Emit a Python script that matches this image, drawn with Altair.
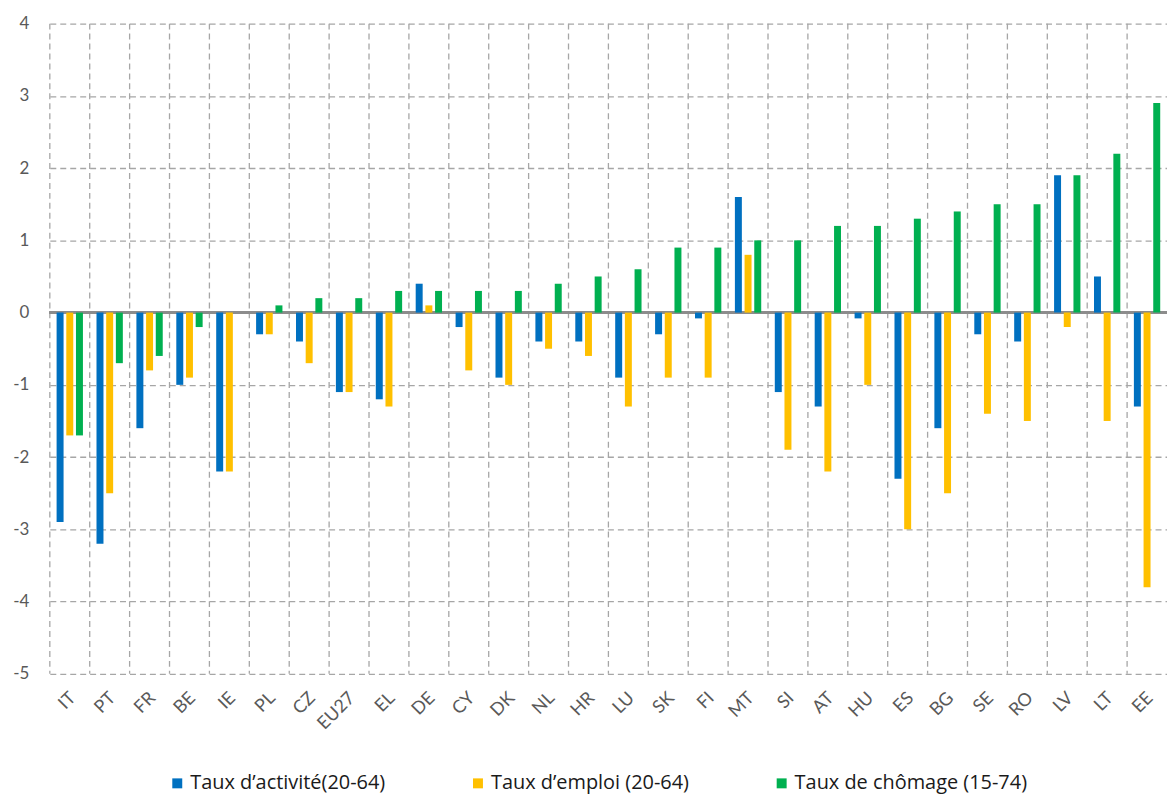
import altair as alt
import pandas as pd

countries = ["IT", "PT", "FR", "BE", "IE", "PL", "CZ", "EU27", "EL", "DE", "CY", "DK", "NL", "HR",
             "LU", "SK", "FI", "MT", "SI", "AT", "HU", "ES", "BG", "SE", "RO", "LV", "LT", "EE"]
activite = [-2.9, -3.2, -1.6, -1.0, -2.2, -0.3, -0.4, -1.1, -1.2, 0.4, -0.2, -0.9, -0.4, -0.4,
            -0.9, -0.3, -0.08, 1.6, -1.1, -1.3, -0.08, -2.3, -1.6, -0.3, -0.4, 1.9, 0.5, -1.3]
emploi = [-1.7, -2.5, -0.8, -0.9, -2.2, -0.3, -0.7, -1.1, -1.3, 0.1, -0.8, -1.0, -0.5, -0.6,
          -1.3, -0.9, -0.9, 0.8, -1.9, -2.2, -1.0, -3.0, -2.5, -1.4, -1.5, -0.2, -1.5, -3.8]
chomage = [-1.7, -0.7, -0.6, -0.2, 0.0, 0.1, 0.2, 0.2, 0.3, 0.3, 0.3, 0.3, 0.4, 0.5,
           0.6, 0.9, 0.9, 1.0, 1.0, 1.2, 1.2, 1.3, 1.4, 1.5, 1.5, 1.9, 2.2, 2.9]
series = ["Taux d’activité(20-64)", "Taux d’emploi (20-64)", "Taux de chômage (15-74)"]
colors = ["#0070C0", "#FFC000", "#00B050"]

rows = []
for i, c in enumerate(countries):
    for s, vals in zip(series, [activite, emploi, chomage]):
        rows.append({"pays": c, "serie": s, "valeur": vals[i]})
df = pd.DataFrame(rows)
grid_df = pd.DataFrame({"pays": countries})

FONT = "Lato"
W, H = 1122, 653

x_axis = alt.Axis(title=None, labelAngle=315, labelFontSize=18, labelColor="#595959",
                  labelFont=FONT, domain=False, ticks=False, grid=False, labelPadding=15,
                  labelOffset=-3)
x_scale = alt.Scale(paddingInner=0, paddingOuter=0)

bars = alt.Chart(df).mark_bar().encode(
    x=alt.X("pays:N", sort=countries, scale=x_scale, axis=x_axis),
    xOffset=alt.XOffset("serie:N", sort=series,
                        scale=alt.Scale(paddingInner=0.28, paddingOuter=0.7)),
    y=alt.Y("valeur:Q", scale=alt.Scale(domain=[-5, 4], nice=False),
            axis=alt.Axis(title=None, values=list(range(-5, 5)),
                          labelExpr="'' + datum.value", labelFontSize=17,
                          labelColor="#595959", labelFont=FONT, domain=False, ticks=False,
                          grid=True, gridDash=[6, 4], gridColor="#a6a6a6", gridWidth=1.3,
                          labelPadding=21)),
    color=alt.Color("serie:N", sort=series,
                    scale=alt.Scale(domain=series, range=colors),
                    legend=alt.Legend(title=None, orient="none", legendX=118, legendY=753,
                                      direction="horizontal", symbolType="square",
                                      symbolSize=100, symbolStrokeWidth=0,
                                      labelFontSize=20, labelFont="Open Sans", labelColor="#1a1a1a",
                                      labelOffset=3, columnPadding=83, labelLimit=400)),
)

vgrid = alt.Chart(grid_df).mark_rule(color="#a6a6a6", strokeDash=[6, 4], strokeWidth=1.3).encode(
    x=alt.X("pays:N", sort=countries, scale=x_scale, axis=x_axis, bandPosition=0),
    y=alt.datum(4),
    y2=alt.datum(-5),
)

zero = alt.Chart(grid_df).mark_rule(color="#8c8c8c", strokeWidth=2).encode(
    y=alt.datum(0),
)

chart = alt.layer(vgrid, zero, bars).properties(
    width=W, height=H,
    autosize=alt.AutoSizeParams(type="none"),
    padding={"left": 42, "top": 14, "right": 0, "bottom": 120},
).configure_view(stroke=None)

chart.save("out.html", embed_options={"renderer": "svg", "actions": False})
